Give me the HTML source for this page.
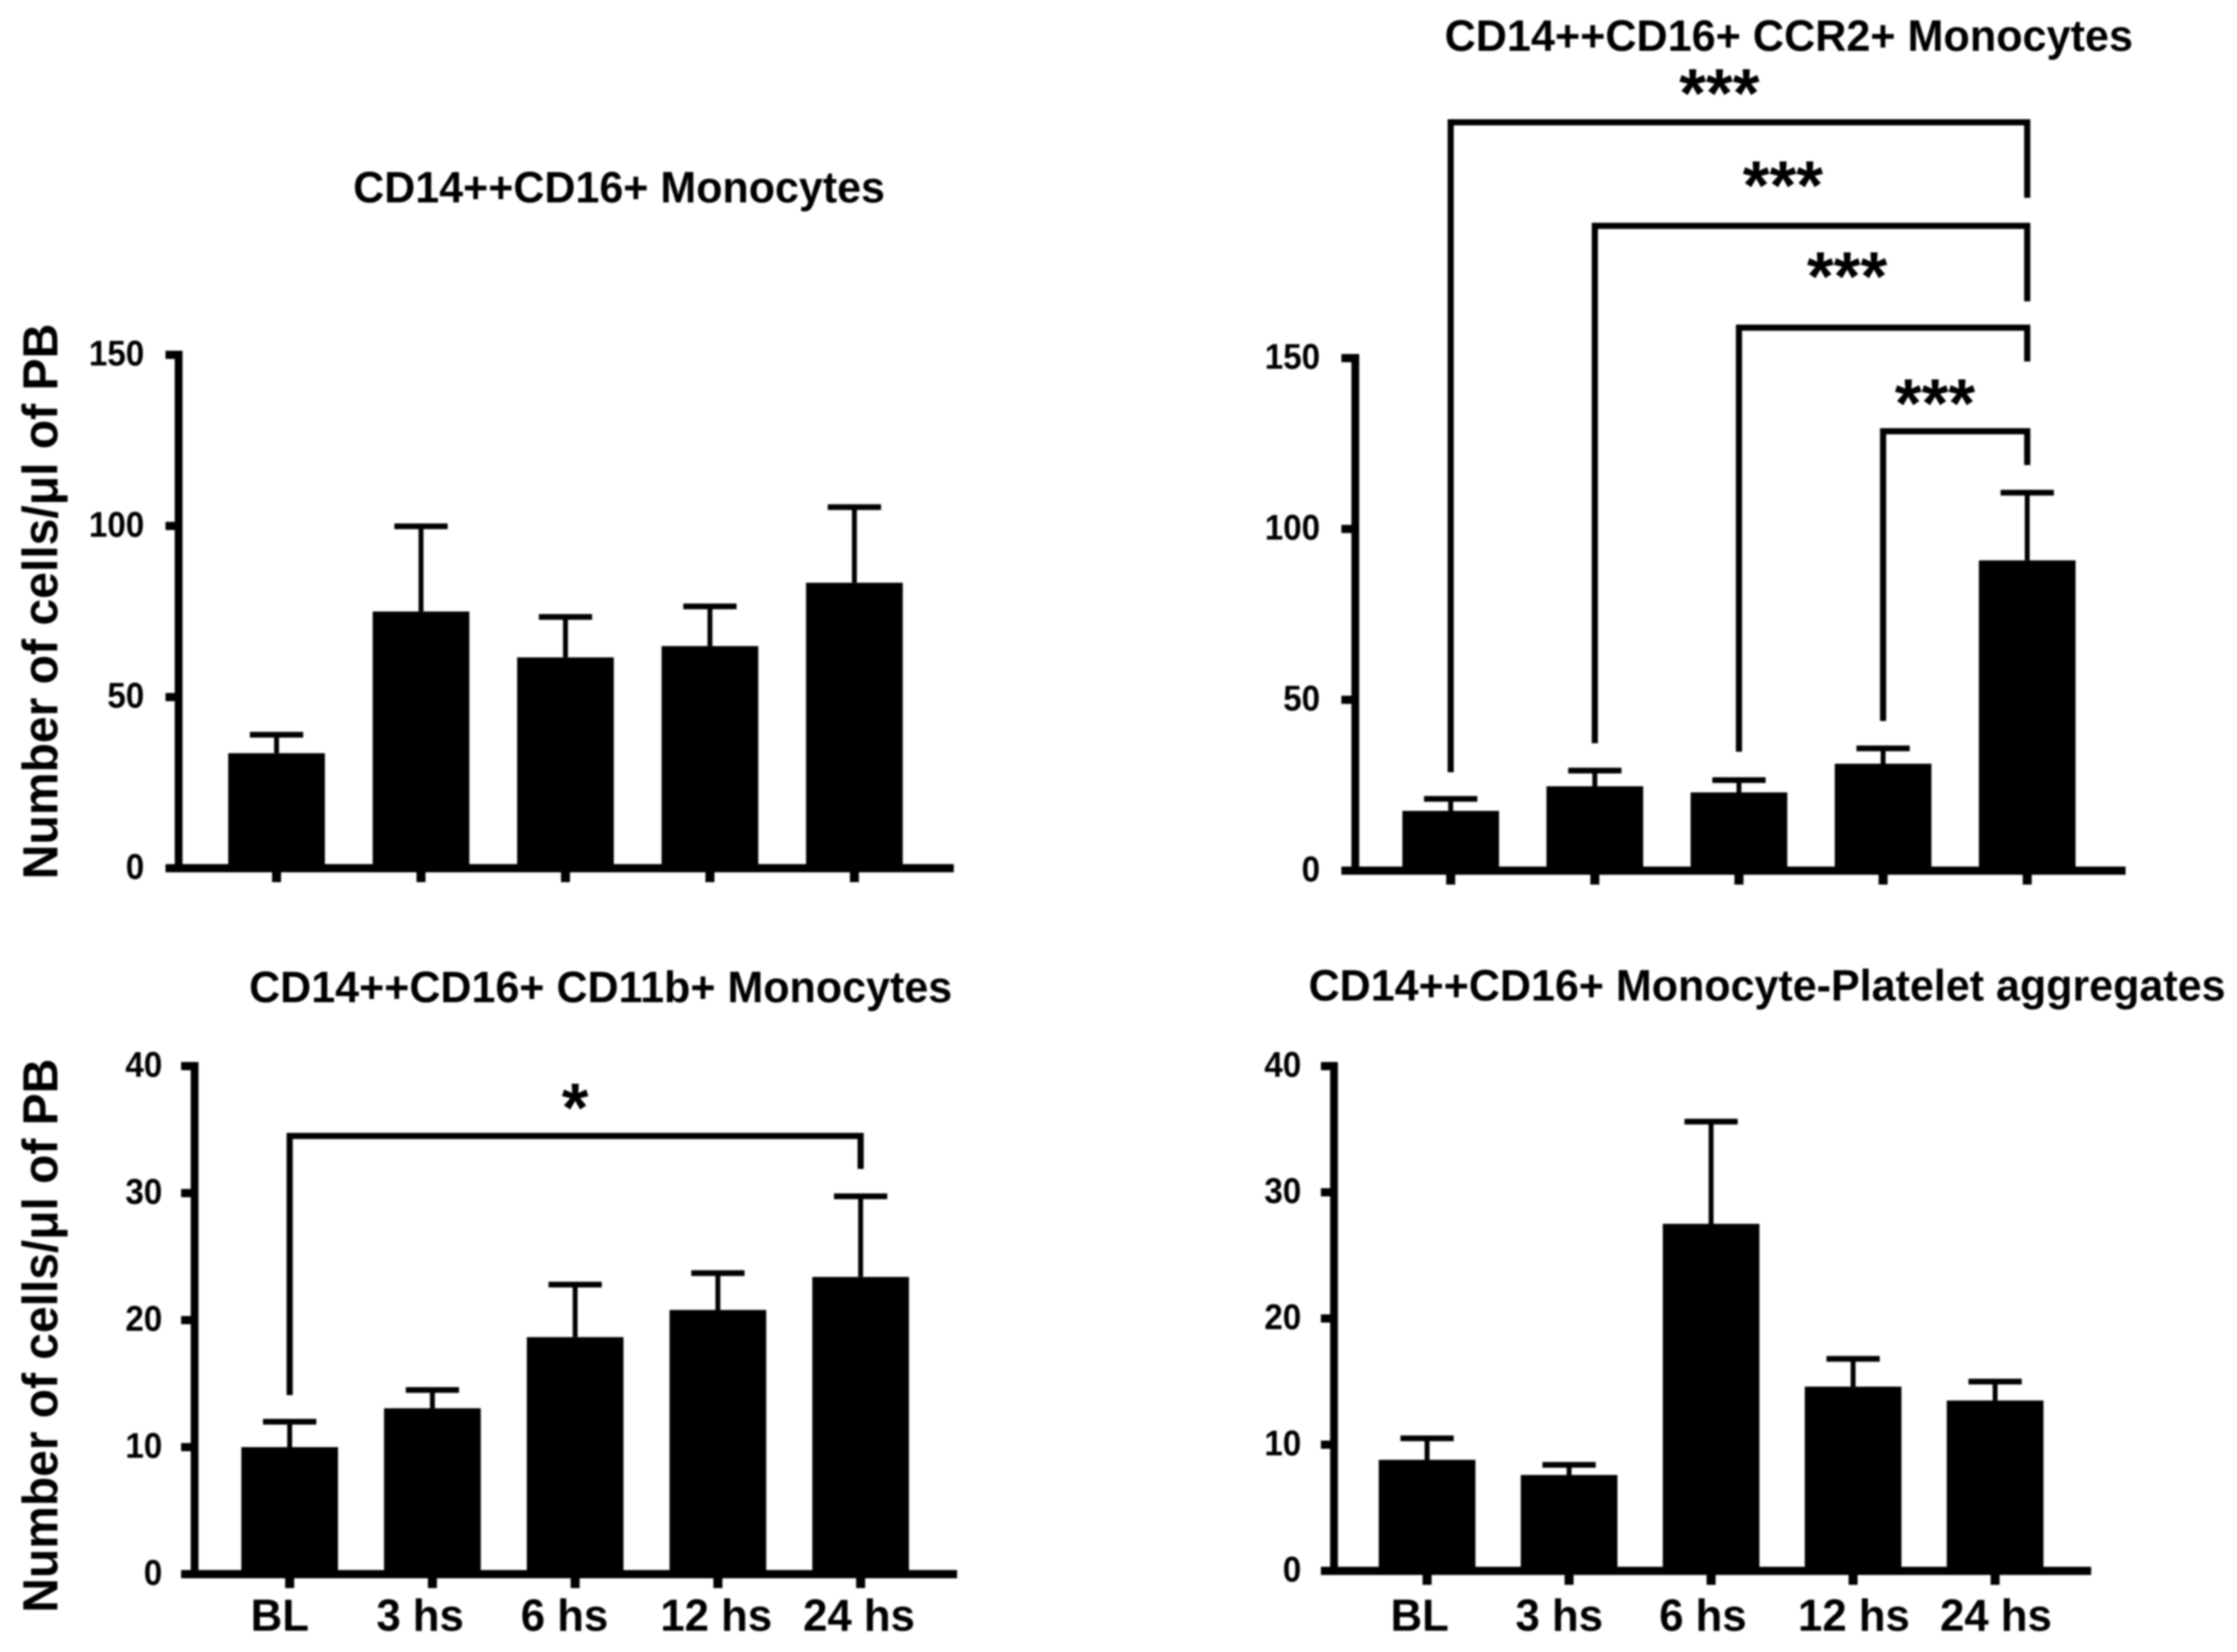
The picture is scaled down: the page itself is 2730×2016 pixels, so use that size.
<!DOCTYPE html>
<html lang="en">
<head>
<meta charset="utf-8">
<title>CD14++CD16+ monocyte subsets over time</title>
<style>
  html, body { margin: 0; padding: 0; background: #fff; }
  #figure { display: block; width: 2730px; height: 2016px; filter: blur(1.1px); }
  text { font-family: "Liberation Sans", "DejaVu Sans", sans-serif; font-weight: bold; fill: #000; }
</style>
</head>
<body>
<svg id="figure" xmlns="http://www.w3.org/2000/svg" width="2730" height="2016" viewBox="0 0 2730 2016">
  <rect x="0" y="0" width="2730" height="2016" fill="#fff"/>
  <text x="431" y="247" font-size="54" textLength="649" lengthAdjust="spacingAndGlyphs">CD14++CD16+ Monocytes</text>
  <text x="1763" y="62" font-size="54" textLength="840" lengthAdjust="spacingAndGlyphs">CD14++CD16+ CCR2+ Monocytes</text>
  <text x="304" y="1223" font-size="54" textLength="858" lengthAdjust="spacingAndGlyphs">CD14++CD16+ CD11b+ Monocytes</text>
  <text x="1597" y="1221" font-size="54" textLength="1119" lengthAdjust="spacingAndGlyphs">CD14++CD16+ Monocyte-Platelet aggregates</text>
  <text transform="translate(70 1073) rotate(-90)" font-size="60" textLength="678" lengthAdjust="spacingAndGlyphs">Number of cells/μl of PB</text>
  <text transform="translate(70 1968) rotate(-90)" font-size="60" textLength="676" lengthAdjust="spacingAndGlyphs">Number of cells/μl of PB</text>
</svg>
<script>
// ---- Chart data ----
const categories = ['BL', '3 hs', '6 hs', '12 hs', '24 hs'];
const ticksTop = [0, 50, 100, 150];
const ticksBottom = [0, 10, 20, 30, 40];

const monocyteMeans = [33.6, 75, 61.6, 64.9, 83.4];
const monocyteErrors = [39, 99.9, 73.4, 76.5, 105.5];

const ccr2Means = [17.5, 24.7, 22.9, 31.3, 90.8];
const ccr2Errors = [21, 29.3, 26.5, 35.8, 110.6];

const cd11bMeans = [10.0, 13.06, 18.66, 20.8, 23.4];
const cd11bErrors = [12, 14.5, 22.8, 23.7, 29.75];

const plateletMeans = [8.8, 7.6, 27.5, 14.6, 13.5];
const plateletErrors = [10.5, 8.4, 35.6, 16.8, 15];

// Significance brackets, in category index / axis value units
const ccr2BracketFrom = [0, 1, 2, 3];
const ccr2BracketTo = [4, 4, 4, 4];
const ccr2BracketTop = [219, 188.7, 158.9, 128.6];
const ccr2BracketFromEnd = [28.8, 37.3, 34.8, 43.8];
const ccr2BracketToEnd = [196.9, 166.6, 149, 118.7];
const ccr2StarLabels = ['***', '***', '***', '***'];
const ccr2StarCategory = [1.864, 2.305, 2.75, 3.36];
const ccr2StarValue = [230, 203, 176.4, 139.2];

const cd11bBracketFrom = [0];
const cd11bBracketTo = [4];
const cd11bBracketTop = [34.5];
const cd11bBracketFromEnd = [14.1];
const cd11bBracketToEnd = [31.9];
const cd11bStarLabels = ['*'];
const cd11bStarCategory = [2.0];
const cd11bStarValue = [37.4];

// ---- Layout ----
const svg = document.getElementById('figure');
const NS = 'http://www.w3.org/2000/svg';
const BAR_W = 118, CAP_W = 65, LABEL_NUDGE = [-12, -15, -13, -2, -2];

function make(tag, attrs) {
  const el = document.createElementNS(NS, tag);
  for (const k in attrs) el.setAttribute(k, attrs[k]);
  svg.appendChild(el);
  return el;
}
function drawText(str, x, y, size, anchor, squeeze) {
  const t = make('text', { x: x, y: y, 'font-size': size, 'text-anchor': anchor });
  t.textContent = str;
  if (squeeze) {
    t.setAttribute('textLength', t.getComputedTextLength() * squeeze);
    t.setAttribute('lengthAdjust', 'spacingAndGlyphs');
  }
  return t;
}
function hLine(x1, x2, y, w) {
  return make('line', { x1: x1, x2: x2, y1: y, y2: y, stroke: '#000', 'stroke-width': w });
}
function vLine(x, y1, y2, w) {
  return make('line', { x1: x, x2: x, y1: y1, y2: y2, stroke: '#000', 'stroke-width': w });
}

function drawPanel(p) {
  const xScale = i => p.x0 + i * p.dx;
  const yScale = v => p.y0 - (v / p.ticks[p.ticks.length - 1]) * (p.y0 - p.yTop);

  p.means.forEach((m, i) => {
    const stem = vLine(xScale(i), yScale(p.errors[i]), yScale(m), 6);
    
    
    const cap = hLine(xScale(i) - CAP_W / 2, xScale(i) + CAP_W / 2, yScale(p.errors[i]), 7);
    
    
    const bar = make('rect', { x: xScale(i) - BAR_W / 2, y: yScale(m), width: BAR_W, height: p.y0 - yScale(m), fill: '#000' });
    
    
  });

  const yAxis = vLine(p.axisX, p.yTop - 5, p.y0 + 4, 9.5);
  
  
  const xAxis = hLine(p.axisStart, p.axisEnd, p.y0, 10);
  
  

  p.ticks.forEach(v => {
    const tick = hLine(p.axisStart, p.axisX, yScale(v), 10);
    
    
    const label = drawText(String(v), p.labelRight, yScale(v) + 13, 44, 'end', 0.92);
    
    
  });

  categories.forEach((c, i) => {
    const tick = vLine(xScale(i), p.y0, p.y0 + 17, 11);
    
    
    if (p.showLabels) {
      const label = drawText(c, xScale(i) + LABEL_NUDGE[i] + p.labelShift, 1990, 55, 'middle', 0.97);
      
      
    }
  });

  (p.bracketFrom || []).forEach((from, i) => {
    const xa = xScale(from), xb = xScale(p.bracketTo[i]), yt = yScale(p.bracketTop[i]);
    const path = make('path', {
      d: 'M' + xa + ' ' + yScale(p.bracketFromEnd[i]) + ' V' + yt + ' H' + xb + ' V' + yScale(p.bracketToEnd[i]),
      fill: 'none', stroke: '#000', 'stroke-width': 7.5
    });
    
    
    const star = drawText(p.starLabels[i], xScale(p.starCategory[i]), yScale(p.starValue[i]) + 39, 84, 'middle');
    
    
  });
}

drawPanel({
  id: 'monocytes', means: monocyteMeans, errors: monocyteErrors, ticks: ticksTop,
  x0: 337.5, dx: 176.3, y0: 1059.5, yTop: 433, axisX: 218, axisStart: 202, axisEnd: 1164, labelRight: 176, showLabels: false, labelShift: 0
});
drawPanel({
  id: 'ccr2', means: ccr2Means, errors: ccr2Errors, ticks: ticksTop,
  x0: 1770.4, dx: 175.9, y0: 1062.5, yTop: 437, axisX: 1654, axisStart: 1637, axisEnd: 2594, labelRight: 1611, showLabels: false, labelShift: 0,
  bracketFrom: ccr2BracketFrom, bracketTo: ccr2BracketTo, bracketTop: ccr2BracketTop,
  bracketFromEnd: ccr2BracketFromEnd, bracketToEnd: ccr2BracketToEnd,
  starLabels: ccr2StarLabels, starCategory: ccr2StarCategory, starValue: ccr2StarValue
});
drawPanel({
  id: 'cd11b', means: cd11bMeans, errors: cd11bErrors, ticks: ticksBottom,
  x0: 353.5, dx: 174.2, y0: 1921, yTop: 1301, axisX: 237.5, axisStart: 221, axisEnd: 1168, labelRight: 198, showLabels: true, labelShift: 0,
  bracketFrom: cd11bBracketFrom, bracketTo: cd11bBracketTo, bracketTop: cd11bBracketTop,
  bracketFromEnd: cd11bBracketFromEnd, bracketToEnd: cd11bBracketToEnd,
  starLabels: cd11bStarLabels, starCategory: cd11bStarCategory, starValue: cd11bStarValue
});
drawPanel({
  id: 'platelet', means: plateletMeans, errors: plateletErrors, ticks: ticksBottom,
  x0: 1741.6, dx: 173.3, y0: 1917, yTop: 1301, axisX: 1628, axisStart: 1612, axisEnd: 2552, labelRight: 1588, showLabels: true, labelShift: 3
});
</script>
</body>
</html>
